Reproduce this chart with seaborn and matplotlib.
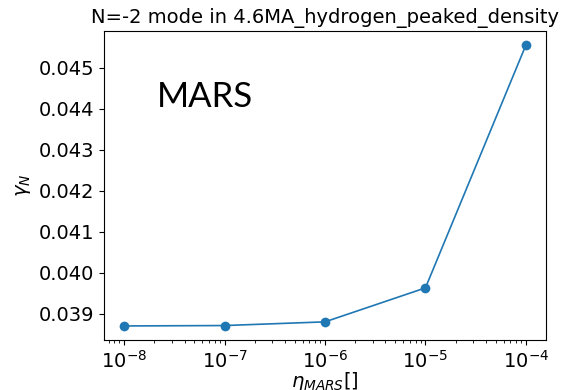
import matplotlib
matplotlib.use("Agg")
import matplotlib.pyplot as plt
from matplotlib.ticker import MultipleLocator
import seaborn as sns
import pandas as pd

eta = [1e-8, 1e-7, 1e-6, 1e-5, 1e-4]
gamma = [0.03870, 0.03871, 0.03880, 0.03963, 0.04556]
title = "N=-2 mode in 4.6MA_hydrogen_peaked_density"

df = pd.DataFrame({"eta": eta, "gamma": gamma})

plt.rcParams["font.size"] = 14
fig = plt.figure(figsize=(5.63, 3.90), dpi=100)
ax = fig.add_axes([104/563, 1-340/390, 442/563, 309/390])
sns.lineplot(data=df, x="eta", y="gamma", marker="o", markersize=7,
             markeredgewidth=0, color="#1f77b4", linewidth=1.2, ax=ax)
ax.set_xscale("log")
ax.set_xticks(eta)
ax.yaxis.set_major_locator(MultipleLocator(0.001))
ax.set_title(title, fontsize=14)
ax.set_xlabel(r"$\eta_{MARS}[]$", fontsize=14, labelpad=-1)
ax.set_ylabel(r"$\gamma_N$", fontsize=14)
ax.tick_params(labelsize=14)
ax.text(0.12, 0.754, "MARS", transform=ax.transAxes, fontsize=25,
        family="Lato", va="baseline", ha="left")
fig.savefig("out.png", dpi=100)
